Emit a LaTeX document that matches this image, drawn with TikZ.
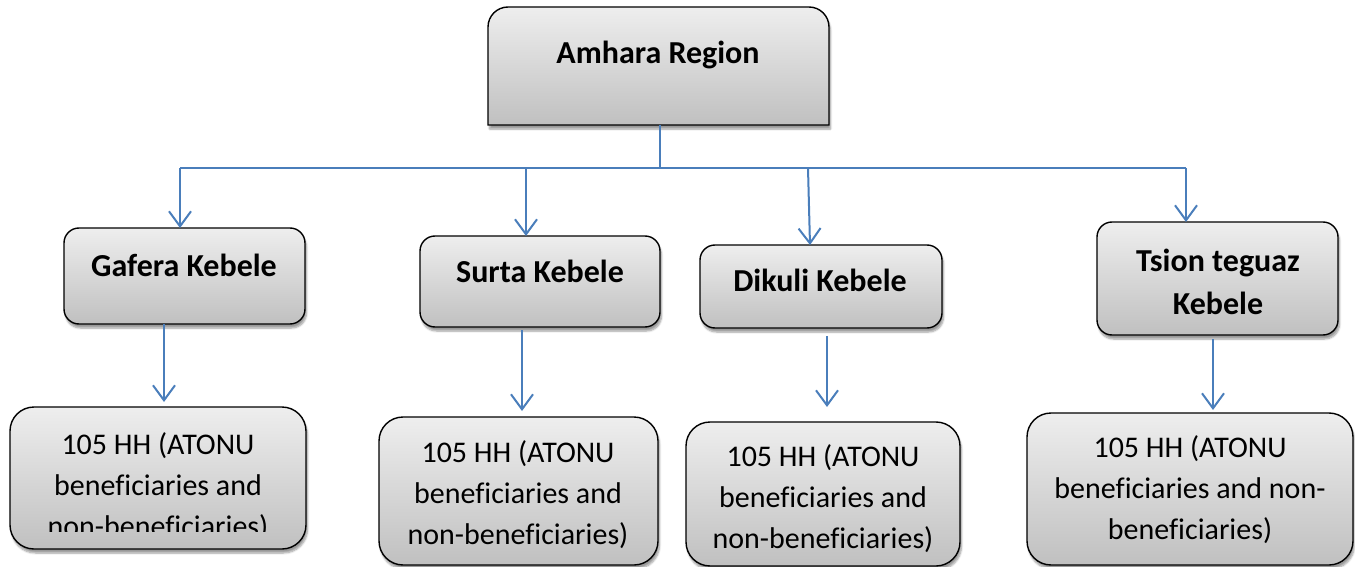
\documentclass[tikz,border=0pt]{standalone}
\usepackage{fontspec}
\setmainfont{Carlito}[Ligatures=NoCommon]
\usetikzlibrary{arrows.meta,shadows.blur,calc}
\definecolor{linkblue}{HTML}{4A7EBB}
\definecolor{gtop}{HTML}{EEEEEE}
\definecolor{gbot}{HTML}{C0C0C0}
\tikzset{
  box/.style={draw=black,line width=1.4pt,top color=gtop,bottom color=gbot,
    blur shadow={shadow xshift=1.5pt,shadow yshift=-4pt,shadow blur steps=6,shadow opacity=40},
    inner sep=0pt,outer sep=0pt},
  kbox/.style={box,rounded corners=15pt},
  hbox/.style={box,rounded corners=24pt},
  link/.style={draw=linkblue,line width=2pt},
  linkarrow/.style={link,-{Straight Barb[length=15pt,width=22pt]}},
  boldtxt/.style={font=\fontsize{32}{43}\selectfont\bfseries,align=center,inner sep=0pt},
  regtxt/.style={font=\fontsize{30}{41}\selectfont,align=center,inner sep=0pt},
}
\begin{document}
\begin{tikzpicture}[x=1pt,y=-1pt]
\useasboundingbox (0,0) rectangle (1355,567);
% top box with rounded top corners only
\node[minimum width=341pt,minimum height=118pt,inner sep=0pt,outer sep=0pt] (amhara) at (658.5,66) {};
\path[box] (amhara.south west) -- ([yshift=-20pt]amhara.north west)
  arc[start angle=180,end angle=90,radius=20pt] -- ([xshift=-20pt]amhara.north east)
  arc[start angle=90,end angle=0,radius=20pt] -- (amhara.south east) -- cycle;
\node[boldtxt] (tam) at (658,55) {Amhara Region};
% kebele boxes
\node[kbox,minimum width=241pt,minimum height=96pt] (k1) at (184.5,276) {};
\node[kbox,minimum width=240pt,minimum height=91pt] (k2) at (540,281.5) {};
\node[kbox,minimum width=242pt,minimum height=83pt] (k3) at (821,286.5) {};
\node[kbox,minimum width=241pt,minimum height=113pt] (k4) at (1217.5,278.5) {};
\node[boldtxt] (tk1) at (184,265) {Gafera Kebele};
\node[boldtxt] (tk2) at (540,271) {Surta Kebele};
\node[boldtxt] (tk3) at (820,280) {Dikuli Kebele};
\node[boldtxt] (tk4) at (1218,282) {Tsion teguaz\\Kebele};
% household boxes
\node[hbox,minimum width=296pt,minimum height=142pt] (b1) at (158,478) {};
\node[hbox,minimum width=279pt,minimum height=148pt] (b2) at (518.5,491) {};
\node[hbox,minimum width=274pt,minimum height=144pt] (b3) at (823,494) {};
\node[hbox,minimum width=326pt,minimum height=152pt] (b4) at (1190,489) {};
\begin{scope}
\clip (0,0) rectangle (1355,531);
\node[regtxt] (tb1) at (158,487) {105 HH (ATONU\\beneficiaries and\\non-beneficiaries)};
\end{scope}
\node[regtxt] (tb2) at (518,495) {105 HH (ATONU\\beneficiaries and\\non-beneficiaries)};
\node[regtxt] (tb3) at (823,499) {105 HH (ATONU\\beneficiaries and\\non-beneficiaries)};
\node[regtxt] (tb4) at (1190,490) {105 HH (ATONU\\beneficiaries and non-\\beneficiaries)};
% connectors
\coordinate (bus) at (660,168);
\coordinate (c1) at (180,168);
\coordinate (c2) at (526,168);
\coordinate (c3) at (808,168);
\coordinate (c4) at (1186,168);
\coordinate (d3) at (810,168);
\draw[link] (amhara.south -| bus) -- (bus);
\draw[link] (c1) -- (c4);
\draw[linkarrow] (c1) -- (c1 |- k1.north);
\draw[linkarrow] (c2) -- (c2 |- k2.north);
\draw[linkarrow] (c3) -- (d3 |- k3.north);
\draw[linkarrow] (c4) -- (c4 |- k4.north);
\coordinate (e1) at (164,0);
\coordinate (e2) at (522,0);
\coordinate (e3) at (827,0);
\coordinate (e4) at (1213,0);
\draw[linkarrow,shorten >=5pt] (e1 |- k1.south) -- (e1 |- b1.north);
\draw[linkarrow,shorten <=3pt,shorten >=6pt] (e2 |- k2.south) -- (e2 |- b2.north);
\draw[linkarrow,shorten <=8pt,shorten >=15pt] (e3 |- k3.south) -- (e3 |- b3.north);
\draw[linkarrow,shorten <=4pt,shorten >=3pt] (e4 |- k4.south) -- (e4 |- b4.north);
\end{tikzpicture}
\end{document}
